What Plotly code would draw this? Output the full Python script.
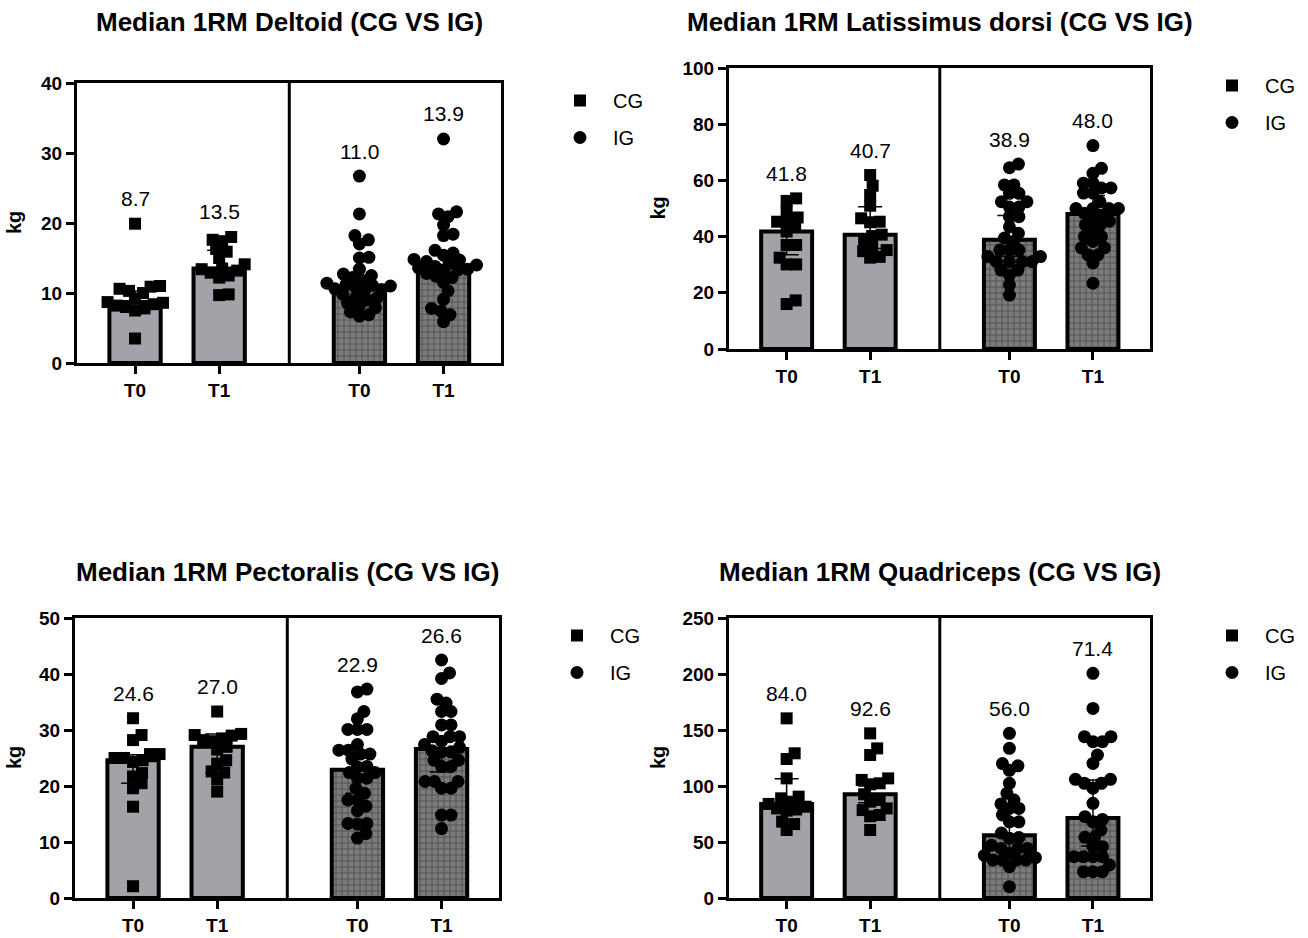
import plotly.graph_objects as go

W, H = 1308, 938
FONT = "Liberation Sans"

# ---------------- data ----------------
titles = ["Median 1RM Deltoid (CG VS IG)",
          "Median 1RM Latissimus dorsi (CG VS IG)",
          "Median 1RM Pectoralis (CG VS IG)",
          "Median 1RM Quadriceps (CG VS IG)"]
group_names = ["CG", "IG"]
time_labels = ["T0", "T1"]
y_label = "kg"
y_max = [40, 100, 50, 250]
y_dtick = [10, 20, 10, 50]

# medians shown as bar heights and labels: CG T0, CG T1, IG T0, IG T1
medians = [
    [8.7, 13.5, 11.0, 13.9],
    [41.8, 40.7, 38.9, 48.0],
    [24.6, 27.0, 22.9, 26.6],
    [84.0, 92.6, 56.0, 71.4],
]
# interval (error bar) low / high
ci_low = [
    [8.0, 12.3, 9.5, 11.8],
    [33.5, 35.8, 33.0, 37.7],
    [20.5, 22.3, 18.7, 22.5],
    [78.0, 85.0, 44.0, 46.4],
]
ci_high = [
    [10.3, 16.1, 12.1, 15.8],
    [46.5, 50.6, 47.5, 54.6],
    [25.6, 29.3, 25.6, 28.8],
    [106.5, 100.0, 78.0, 105.4],
]

# individual values
deltoid_cg_t0 = [19.9, 11.0, 10.9, 10.6, 10.3, 10.0, 9.2, 8.7, 8.6, 8.4, 8.2, 8.0, 7.8, 7.5, 3.5]
deltoid_cg_t1 = [18.0, 17.6, 17.4, 16.3, 15.9, 15.0, 14.1, 13.5, 13.4, 13.2, 12.9, 12.5, 12.2, 9.8, 9.7]
deltoid_ig_t0 = [26.7, 21.3, 18.2, 17.6, 17.0, 15.1, 15.0, 13.4, 12.7, 12.5, 12.2, 11.8, 11.4, 11.2, 11.1,
                 11.0, 10.9, 10.6, 10.5, 10.3, 9.8, 9.5, 9.3, 9.0, 8.6, 8.2, 7.9, 7.3, 6.9, 6.7]
deltoid_ig_t1 = [32.0, 21.6, 21.3, 20.9, 19.7, 18.4, 18.2, 16.1, 15.7, 15.4, 14.8, 14.7, 14.5, 14.3, 14.0,
                 13.8, 13.6, 13.4, 13.3, 13.2, 12.8, 12.4, 12.2, 11.5, 10.3, 9.1, 7.8, 7.4, 6.9, 5.9]

lat_cg_t0 = [53.6, 52.7, 48.9, 46.8, 45.3, 45.3, 43.5, 41.8, 37.0, 37.0, 32.5, 30.1, 30.1, 17.3, 16.0]
lat_cg_t1 = [61.9, 58.1, 54.8, 51.0, 46.5, 45.3, 45.1, 40.7, 40.2, 38.3, 36.3, 35.2, 34.8, 32.8, 32.5]
lat_ig_t0 = [65.8, 64.5, 58.4, 58.4, 55.4, 55.4, 52.4, 52.4, 50.5, 50.5, 47.1, 47.1, 43.5, 41.2, 39.5,
             38.3, 35.2, 35.2, 35.2, 32.9, 32.9, 31.1, 31.1, 31.1, 31.1, 28.1, 28.1, 26.3, 22.8, 19.2]
lat_ig_t1 = [72.4, 64.3, 62.5, 59.0, 59.0, 57.3, 57.3, 55.5, 55.5, 52.4, 50.0, 50.0, 50.0, 50.0, 48.3,
             47.7, 46.5, 45.5, 44.2, 44.2, 42.0, 40.0, 40.0, 38.3, 36.0, 36.0, 33.5, 33.5, 30.6, 23.4]

pect_cg_t0 = [32.1, 29.1, 28.2, 25.7, 25.7, 25.0, 25.0, 24.6, 24.3, 22.3, 21.7, 20.5, 19.6, 16.3, 2.1]
pect_cg_t1 = [33.3, 29.3, 29.1, 29.0, 28.5, 28.2, 28.0, 27.0, 26.5, 24.6, 24.0, 22.6, 22.4, 21.2, 19.0]
pect_ig_t0 = [37.3, 36.8, 33.3, 32.0, 30.1, 30.1, 30.1, 27.4, 26.4, 26.4, 25.7, 25.7, 24.8, 23.5, 23.4,
              22.4, 22.4, 21.4, 21.4, 19.6, 18.7, 17.5, 17.5, 16.4, 15.6, 13.3, 13.3, 13.2, 11.5, 10.7]
pect_ig_t1 = [42.5, 40.2, 39.2, 35.5, 34.8, 33.3, 33.3, 30.9, 30.9, 28.8, 28.8, 28.8, 28.0, 27.4, 26.9,
              26.3, 26.1, 26.1, 24.6, 24.6, 23.5, 23.5, 20.8, 20.8, 20.8, 19.6, 19.6, 14.8, 14.8, 12.4]

quad_cg_t0 = [160.4, 129.2, 124.1, 106.8, 90.5, 89.0, 86.0, 84.0, 81.5, 80.0, 79.0, 78.0, 68.2, 66.0, 60.7]
quad_cg_t1 = [147.0, 133.6, 127.7, 106.8, 105.4, 102.4, 101.5, 92.6, 87.5, 86.0, 80.0, 78.5, 74.1, 73.0, 60.7]
quad_ig_t0 = [147.0, 133.6, 120.0, 118.0, 114.0, 102.4, 93.5, 87.5, 84.0, 80.0, 80.0, 74.1, 68.0, 68.0, 58.0,
              54.0, 53.3, 47.0, 44.3, 44.3, 44.3, 39.9, 38.0, 36.0, 33.9, 33.9, 33.9, 33.9, 28.0, 10.1]
quad_ig_t1 = [200.6, 169.3, 144.0, 144.0, 139.6, 139.6, 127.7, 120.2, 106.0, 106.0, 102.4, 102.4, 98.0, 84.5, 72.6,
              70.2, 68.0, 60.7, 54.2, 54.2, 45.8, 45.8, 36.9, 36.9, 36.9, 36.9, 29.5, 23.5, 23.5, 23.5]

panel_values = [
    [deltoid_cg_t0, deltoid_cg_t1, deltoid_ig_t0, deltoid_ig_t1],
    [lat_cg_t0, lat_cg_t1, lat_ig_t0, lat_ig_t1],
    [pect_cg_t0, pect_cg_t1, pect_ig_t0, pect_ig_t1],
    [quad_cg_t0, quad_cg_t1, quad_ig_t0, quad_ig_t1],
]

# ---------------- layout geometry (pixels) ----------------
boxes = [(77, 501, 83, 363), (729, 1150, 68, 349), (75, 499, 618, 898), (729, 1150, 618, 898)]
title_y = [22, 22, 572, 572]
ytitle_x = [14, 658, 14, 658]
legend_px = [(547, 81), (1199, 66), (544, 616), (1199, 616)]
x_range = [0.31, 5.35]
group_gap = 1.667
positions = [1, 2, 2 + group_gap, 3 + group_gap]
divider_x = (positions[1] + positions[2]) / 2
bar_width = 0.61
marker_d = 9.5

CG_FILL = "#a2a2a8"


def swarm(vals, ppu_y, ppu_x, d):
    order = sorted(range(len(vals)), key=lambda i: vals[i])
    placed = []
    offs = [0.0] * len(vals)
    cands = [0.0]
    for k in range(1, 400):
        cands += [k * 0.5, -k * 0.5]
    for i in order:
        y = vals[i] * ppu_y
        for c in cands:
            if all((c - px) ** 2 + (y - py) ** 2 >= d * d for px, py in placed):
                break
        placed.append((c, y))
        offs[i] = c / ppu_x
    return offs


fig = go.Figure()
annotations = []
shapes = []

for p in range(4):
    l, r, t, b = boxes[p]
    n = "" if p == 0 else str(p + 1)
    xa, ya = "x" + n, "y" + n
    leg = "legend" + n
    ppu_y = (b - t) / y_max[p]
    ppu_x = (r - l) / (x_range[1] - x_range[0])

    # bars
    fig.add_trace(go.Bar(
        x=positions[:2], y=medians[p][:2], width=bar_width,
        marker=dict(color=CG_FILL, line=dict(color="black", width=4)),
        xaxis=xa, yaxis=ya, showlegend=False, hoverinfo="skip"))
    fig.add_trace(go.Bar(
        x=positions[2:], y=medians[p][2:], width=bar_width,
        marker=dict(color="#6e6e6e", line=dict(color="black", width=4),
                    pattern=dict(shape="+", fgcolor="#262626", bgcolor="#7c7c7c",
                                 size=6, solidity=0.3)),
        xaxis=xa, yaxis=ya, showlegend=False, hoverinfo="skip"))

    # points
    for gi, (gname, sym) in enumerate(zip(group_names, ["square", "circle"])):
        xs, ys = [], []
        for ti in range(2):
            k = gi * 2 + ti
            vals = panel_values[p][k]
            offs = swarm(vals, ppu_y, ppu_x, marker_d)
            xs += [positions[k] + o for o in offs]
            ys += list(vals)
        fig.add_trace(go.Scatter(
            x=xs, y=ys, mode="markers", name=gname, legendgroup=gname,
            marker=dict(symbol=sym, size=12 if sym == "square" else 13, color="black",
                        line=dict(width=0)),
            xaxis=xa, yaxis=ya, legend=leg, showlegend=True))

    # error bars
    fig.add_trace(go.Scatter(
        x=positions, y=medians[p], mode="markers",
        marker=dict(size=1, color="rgba(0,0,0,0)"),
        error_y=dict(type="data", symmetric=False,
                     array=[h - m for h, m in zip(ci_high[p], medians[p])],
                     arrayminus=[m - lo for m, lo in zip(medians[p], ci_low[p])],
                     color="black", thickness=1.5, width=12),
        xaxis=xa, yaxis=ya, showlegend=False, hoverinfo="skip"))

    # median labels above highest point
    for k in range(4):
        annotations.append(dict(
            x=positions[k], y=max(panel_values[p][k]), xref=xa, yref=ya,
            text=f"{medians[p][k]:.1f}", showarrow=False, yshift=25,
            font=dict(family=FONT, size=21, color="black")))

    # title
    annotations.append(dict(
        x=(l + r) / 2 / W, y=1 - title_y[p] / H, xref="paper", yref="paper",
        text=titles[p], showarrow=False, xanchor="center", yanchor="middle",
        font=dict(family=FONT, size=26, color="black", weight="bold")))

    # y-axis title
    annotations.append(dict(
        x=ytitle_x[p] / W, y=1 - (t + b) / 2 / H, xref="paper", yref="paper",
        text=y_label, showarrow=False, textangle=-90,
        xanchor="center", yanchor="middle",
        font=dict(family=FONT, size=20, color="black", weight="bold")))

    # divider between groups
    shapes.append(dict(type="line", xref=xa, yref=ya + " domain",
                       x0=divider_x, x1=divider_x, y0=0, y1=1,
                       line=dict(color="black", width=3)))

    xdom = [l / W, r / W]
    ydom = [1 - b / H, 1 - t / H]
    fig.layout["xaxis" + n] = dict(
        domain=xdom, range=x_range, anchor=ya, automargin=False,
        tickmode="array", tickvals=positions, ticktext=time_labels * 2,
        showline=True, linewidth=3, linecolor="black", mirror=True,
        ticks="outside", ticklen=8, tickwidth=3, tickcolor="black",
        showgrid=False, zeroline=False,
        tickfont=dict(family=FONT, size=19, color="black", weight="bold"))
    fig.layout["yaxis" + n] = dict(
        domain=ydom, range=[0, y_max[p]], anchor=xa, dtick=y_dtick[p], automargin=False,
        showline=True, linewidth=3, linecolor="black", mirror=True,
        ticks="outside", ticklen=8, tickwidth=3, tickcolor="black",
        showgrid=False, zeroline=False,
        tickfont=dict(family=FONT, size=19, color="black", weight="bold"))
    lx, ly = legend_px[p]
    fig.layout[leg] = dict(
        x=lx / W, y=1 - ly / H, xanchor="left", yanchor="top",
        bgcolor="rgba(0,0,0,0)", borderwidth=0, tracegroupgap=8, itemwidth=56,
        font=dict(family=FONT, size=20, color="black"))

fig.update_layout(
    width=W, height=H, margin=dict(l=0, r=0, t=0, b=0, autoexpand=False),
    paper_bgcolor="white", plot_bgcolor="white",
    barmode="overlay", showlegend=True,
    annotations=annotations, shapes=shapes,
    font=dict(family=FONT, color="black"))

fig.write_html("out.html")
